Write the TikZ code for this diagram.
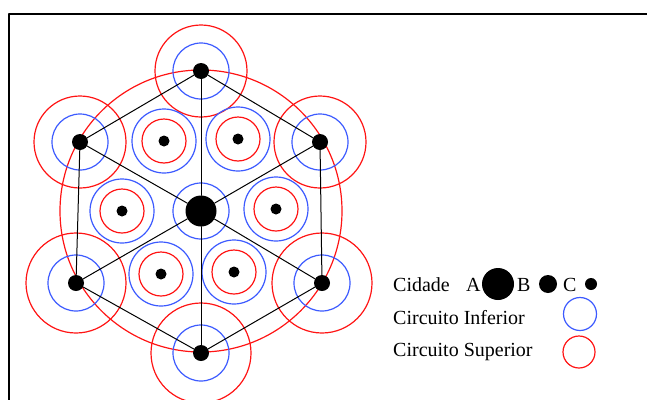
\documentclass[tikz,border=0pt]{standalone}
\usepackage{fontspec}
\setmainfont{Liberation Serif}
\usepackage{tikz}
\usetikzlibrary{backgrounds,positioning}
\definecolor{cellRed}{HTML}{FF1414}
\definecolor{cellBlue}{HTML}{3C5AFF}
\definecolor{cellInk}{HTML}{000000}
\tikzset{
  cell diagram/.style={x=1pt, y=-1pt, line cap=round, line join=round},
  cell dot/.style={circle, fill=cellInk, inner sep=0pt},
  cell inferior/.style={draw=cellBlue, line width=1.2pt},
  cell superior/.style={draw=cellRed, line width=1.2pt},
  cell link/.style={draw=cellInk, line width=1pt},
  cell label/.style={font=\fontsize{20}{24}\selectfont, text=cellInk,
    anchor=base west, inner sep=0pt}
}
\begin{document}
\begin{tikzpicture}[cell diagram]
\useasboundingbox (0,0) rectangle (647,399);
\draw[line width=2pt] (9,402) -- (9,14) -- (650,14);
% centre and corners of the hexagon
\node[cell dot,minimum size=31pt] (c) at (201,211) {};
\node[cell dot,minimum size=16pt] (v1) at (201,71) {};
\node[cell dot,minimum size=16pt] (v2) at (320,142) {};
\node[cell dot,minimum size=16pt] (v3) at (322,283) {};
\node[cell dot,minimum size=16pt] (v4) at (201,353) {};
\node[cell dot,minimum size=16pt] (v5) at (76,283) {};
\node[cell dot,minimum size=16pt] (v6) at (80,142) {};
% centres of the six triangles
\node[cell dot,minimum size=11pt] (t1) at (164,141) {};
\node[cell dot,minimum size=11pt] (t2) at (238,139) {};
\node[cell dot,minimum size=11pt] (t3) at (276,209) {};
\node[cell dot,minimum size=11pt] (t4) at (234,272) {};
\node[cell dot,minimum size=11pt] (t5) at (161,274) {};
\node[cell dot,minimum size=11pt] (t6) at (122,211) {};
\draw[cell link] (v1) -- (v2) -- (v3) -- (v4) -- (v5) -- (v6) -- (v1);
\foreach \i in {1,...,6}
  \draw[cell link] (c) -- (v\i);
\begin{scope}[on background layer]
\draw[cell superior] (c) circle[radius=141pt];
\draw[cell inferior] (c) circle[radius=28pt];
\foreach \i/\r in {1/46,2/46,3/50,4/50,5/50,6/46} {
  \draw[cell inferior] (v\i) circle[radius=28pt];
  \draw[cell superior] (v\i) circle[radius=\r pt];
}
\foreach \i in {1,...,6} {
  \draw[cell inferior] (t\i) circle[radius=32pt];
  \draw[cell superior] (t\i) circle[radius=22pt];
}
\end{scope}
% legend
\node[cell label] (city) at (393,291) {Cidade};
\node[cell label] (la) at (466,291) {A};
\node[cell dot,minimum size=32pt] (da) at (498,284) {};
\node[cell label] (lb) at (517,291) {B};
\node[cell dot,minimum size=18pt] (db) at (548,284) {};
\node[cell label] (lc) at (563,291) {C};
\node[cell dot,minimum size=12pt] (dc) at (591,284) {};
\node[cell label] (inf) at (393,324) {Circuito Inferior};
\node[circle,cell inferior,minimum size=33pt,inner sep=0pt] (kinf) at (580,314) {};
\node[cell label] (sup) at (393,356) {Circuito Superior};
\node[circle,cell superior,minimum size=32pt,inner sep=0pt] (ksup) at (579,352) {};
\end{tikzpicture}
\end{document}
